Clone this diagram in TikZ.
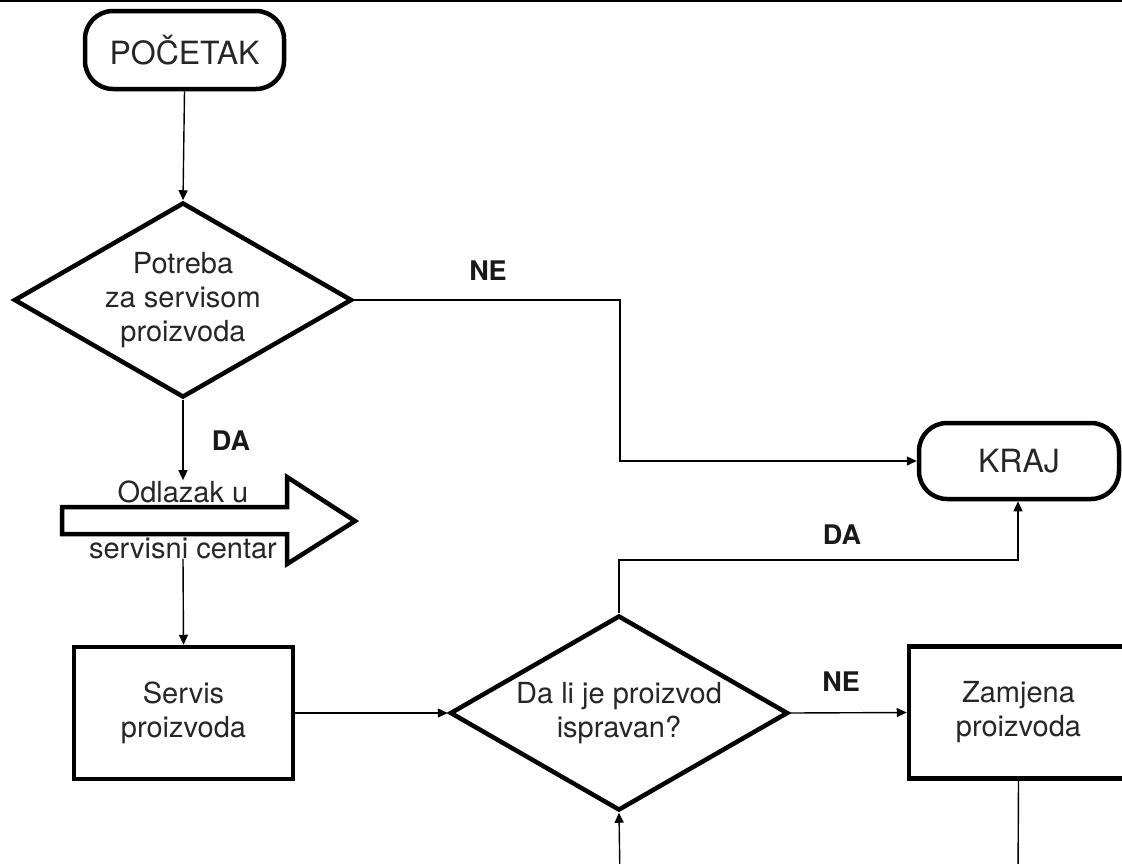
\documentclass[tikz,border=0pt]{standalone}
\usepackage{fontspec}
\setmainfont{TeX Gyre Heros}
\usetikzlibrary{arrows.meta,shapes.geometric}
\begin{document}
\begin{tikzpicture}[x=1pt,y=-1pt,
  txt/.style={text=black!85, font=\fontsize{29}{34}\selectfont, align=center},
  term/.style={draw, line width=4.5pt, rounded corners=28pt, txt, font=\fontsize{32}{36}\selectfont},
  dec/.style={draw, diamond, aspect=1.73, line width=4.5pt, inner sep=0pt, minimum width=338pt, minimum height=195pt, txt},
  proc/.style={draw, rectangle, line width=4.5pt, minimum width=219pt, minimum height=132pt, txt},
  conn/.style={line width=1.4pt, -{Triangle[length=10pt,width=9pt]}},
  plain/.style={line width=1.4pt},
  lbl/.style={font=\bfseries\fontsize{27}{30}\selectfont, text=black!90}]
\useasboundingbox (0,0) rectangle (1122,863);
\clip (0,0) rectangle (1122,863);
\draw[line width=4pt] (0,0) -- (1122,0);

\node[term, minimum width=199pt, minimum height=78pt] (start) at (184.5,50) {POČETAK};
\node[dec] (d1) at (183,300) {Potreba\\za servisom\\proizvoda};
\node[term, minimum width=200pt, minimum height=76pt] (kraj) at (1019,461) {KRAJ};

% fat arrow
\draw[line width=4.5pt, miter limit=10] (62,507) -- (287,507) -- (287,477) -- (355,521) -- (287,564) -- (287,534) -- (62,534) -- cycle;
\node[txt, anchor=base, inner sep=0pt] (odl1) at (183,502) {Odlazak u};
\node[txt, anchor=base, inner sep=0pt] (odl2) at (183,558) {servisni centar};

\node[proc] (servis) at (183.5,713) {Servis\\proizvoda};
\node[dec] (d2) at (619,713) {Da li je proizvod\\ispravan?};
\node[proc] (zam) at (1018.5,712.5) {Zamjena\\proizvoda};

\coordinate (ne1) at (620,300);
\coordinate (da1) at (1018,560);
\coordinate (b1) at (620,880);
\coordinate (b2) at (1018,880);

\draw[conn] (start.south) -- (d1.north);
\draw[conn] (d1.east) -- (ne1) |- (kraj.west);
\draw[conn] (d1.south) -- (odl1.north);
\draw[conn] (odl2.south) -- (servis.north);
\draw[conn] (servis.east) -- (d2.west);
\draw[conn] (d2.east) -- (zam.west);
\draw[conn] (d2.north) |- (da1) -- (da1 |- kraj.south);
\draw[conn] (b1) -- (d2.south);
\draw[plain] (zam.south) -- (b2);

\node[lbl] (lne1) at (488,271) {NE};
\node[lbl] (lda1) at (231,441) {DA};
\node[lbl] (lda2) at (842,535) {DA};
\node[lbl] (lne2) at (841,682) {NE};
\end{tikzpicture}
\end{document}
